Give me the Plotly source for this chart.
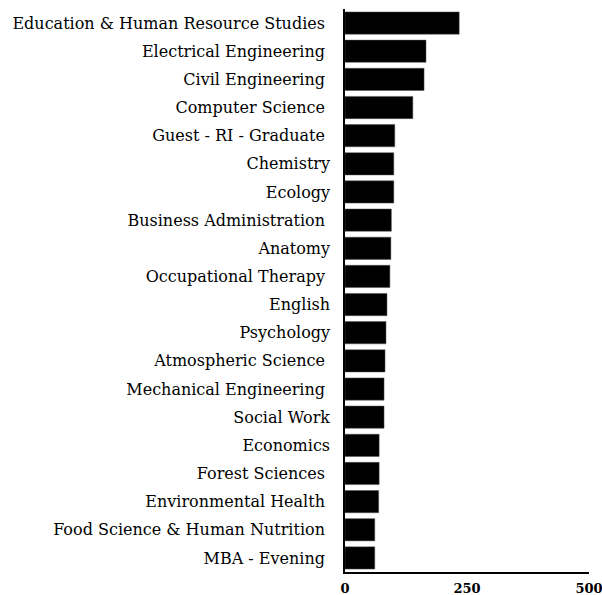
import plotly.graph_objects as go

departments = [
    "Education & Human Resource Studies",
    "Electrical Engineering",
    "Civil Engineering",
    "Computer Science",
    "Guest - RI - Graduate",
    "Chemistry",
    "Ecology",
    "Business Administration",
    "Anatomy",
    "Occupational Therapy",
    "English",
    "Psychology",
    "Atmospheric Science",
    "Mechanical Engineering",
    "Social Work",
    "Economics",
    "Forest Sciences",
    "Environmental Health",
    "Food Science & Human Nutrition",
    "MBA - Evening",
]
counts = [234, 166, 162, 139, 102, 100, 100, 95, 94, 92, 86, 84, 82, 80, 80, 70, 70, 69, 61, 61]
x_ticks = [0, 250, 500]

# labels rendered with a trailing space in the original
trailing_space = {
    "Education & Human Resource Studies", "Electrical Engineering", "Civil Engineering",
    "Computer Science", "Guest - RI - Graduate", "Business Administration",
    "Occupational Therapy", "Atmospheric Science", "Mechanical Engineering",
    "Forest Sciences", "Environmental Health", "Food Science & Human Nutrition",
    "MBA - Evening",
}
tick_text = [d + ("\u00a0" if d in trailing_space else "") for d in departments]

fig = go.Figure(go.Bar(
    x=counts,
    y=departments,
    orientation="h",
    marker=dict(color="black", line=dict(color="#555555", width=0.5)),
    width=0.79,
))

fig.update_layout(
    width=602, height=595,
    margin=dict(l=345, r=13, t=9, b=23, autoexpand=False),
    paper_bgcolor="white", plot_bgcolor="white",
    showlegend=False,
    font=dict(family="DejaVu Serif", color="black"),
)
fig.update_xaxes(
    range=[0, 500], tickvals=x_ticks, ticktext=["<b>%d</b>" % v for v in x_ticks],
    showgrid=False, zeroline=False, showline=True, linecolor="black", linewidth=1.5,
    ticks="", ticklabelstandoff=4, ticklabeloverflow="allow",
    tickfont=dict(size=13, family="DejaVu Serif"), automargin=False,
)
fig.update_yaxes(
    categoryorder="array", categoryarray=departments[::-1],
    tickvals=departments, ticktext=tick_text,
    showgrid=False, zeroline=False, showline=True, linecolor="black", linewidth=1.5,
    ticks="", ticklabelstandoff=10, tickfont=dict(size=16, family="DejaVu Serif"),
    range=[-0.5, len(departments) - 0.5], automargin=False,
)

# remove the browser's default 8px body margin so the figure fills the window
fig.write_html(
    "out.html",
    config={"displayModeBar": False},
    post_script="document.body.style.margin='0';document.body.style.overflow='hidden';",
)
